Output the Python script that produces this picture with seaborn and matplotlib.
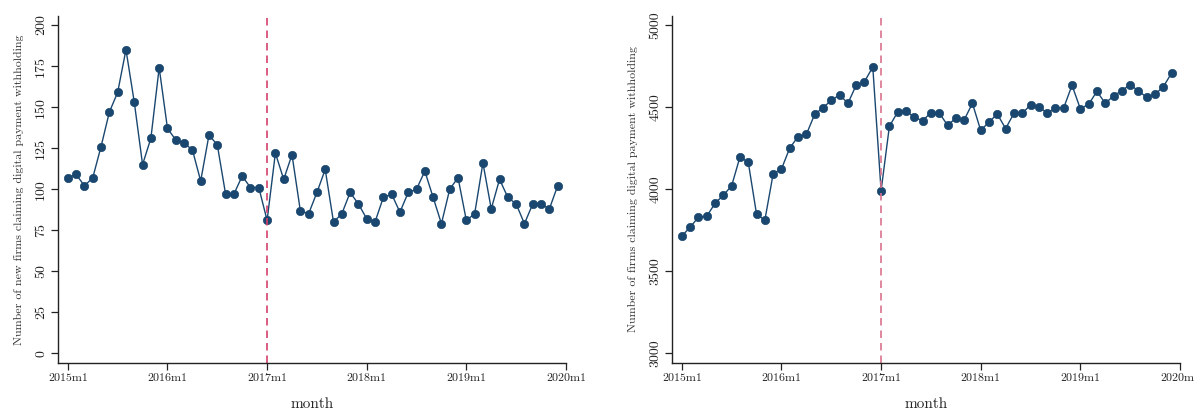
import numpy as np
import pandas as pd
import matplotlib
matplotlib.use("Agg")
import matplotlib.pyplot as plt
import seaborn as sns

# Monthly series, 2015m1 .. 2019m12
new_firms = [
    107, 109, 102, 107, 126, 147, 159, 185, 153, 115, 131, 174,
    137, 130, 128, 124, 105, 133, 127, 97, 97, 108, 101, 101,
    81, 122, 106, 121, 87, 85, 98, 112, 80, 85, 98, 91,
    82, 80, 95, 97, 86, 98, 100, 111, 95, 79, 100, 107,
    81, 85, 116, 88, 106, 95, 91, 79, 91, 91, 88, 102,
]
all_firms = [
    3715, 3768, 3830, 3835, 3914, 3963, 4021, 4196, 4164, 3847, 3812, 4094,
    4123, 4251, 4320, 4334, 4456, 4496, 4541, 4575, 4523, 4633, 4655, 4744,
    3991, 4383, 4470, 4478, 4438, 4417, 4466, 4466, 4389, 4432, 4421, 4523,
    4358, 4409, 4458, 4369, 4462, 4462, 4513, 4502, 4464, 4492, 4496, 4633,
    4490, 4517, 4596, 4523, 4568, 4600, 4637, 4598, 4560, 4578, 4624, 4708,
]
x_tick_pos = [0, 12, 24, 36, 48, 60]
x_tick_labels = ["2015m1", "2016m1", "2017m1", "2018m1", "2019m1", "2020m1"]
left_yticks = [0, 25, 50, 75, 100, 125, 150, 175, 200]
right_yticks = [3000, 3500, 4000, 4500, 5000]
policy_month = 24  # 2017m1

sns.set_style("ticks")
plt.rcParams["font.family"] = ["cmr10", "DejaVu Serif"]
plt.rcParams["axes.formatter.use_mathtext"] = True

df = pd.DataFrame({
    "month": np.arange(len(new_firms)),
    "new_firms": new_firms,
    "all_firms": all_firms,
})

NAVY = "#1a476f"
fig = plt.figure(figsize=(11.95, 4.09), dpi=100)
ax1 = fig.add_axes([0.0488, 0.1132, 0.4248, 0.8477])
ax2 = fig.add_axes([0.5626, 0.1132, 0.4248, 0.8477])

panels = [
    (ax1, "new_firms", "Number of new firms claiming digital payment withholding",
     left_yticks, (-5.7, 205.5), "#d6416b"),
    (ax2, "all_firms", "Number of firms claiming digital payment withholding",
     right_yticks, (2943, 5055), "#d9738f"),
]

for ax, col, ylab, yt, ylim, vcol in panels:
    sns.lineplot(data=df, x="month", y=col, ax=ax, color=NAVY, linewidth=1.0,
                 marker="o", markersize=6, markeredgecolor=NAVY,
                 markeredgewidth=0.5)
    ax.axvline(policy_month, color=vcol, linewidth=1.2, dashes=(4.5, 3))
    ax.set_xlim(-1.15, 60)
    ax.set_ylim(*ylim)
    ax.set_xticks(x_tick_pos)
    ax.set_xticklabels(x_tick_labels, fontsize=8.6)
    ax.set_yticks(yt)
    ax.set_yticklabels([str(v) for v in yt], fontsize=10, rotation=90,
                       va="center")
    ax.set_xlabel("month", fontsize=11, labelpad=10)
    ax.set_ylabel(ylab, fontsize=8.6, color="#333333", labelpad=8)
    sns.despine(ax=ax)
    for s in ("left", "bottom"):
        ax.spines[s].set_color("#222222")
        ax.spines[s].set_linewidth(1.0)
    ax.tick_params(axis="both", direction="out", length=5, width=0.9,
                   color="#222222", labelcolor="#222222", pad=3)

fig.savefig("out.png", dpi=100)
